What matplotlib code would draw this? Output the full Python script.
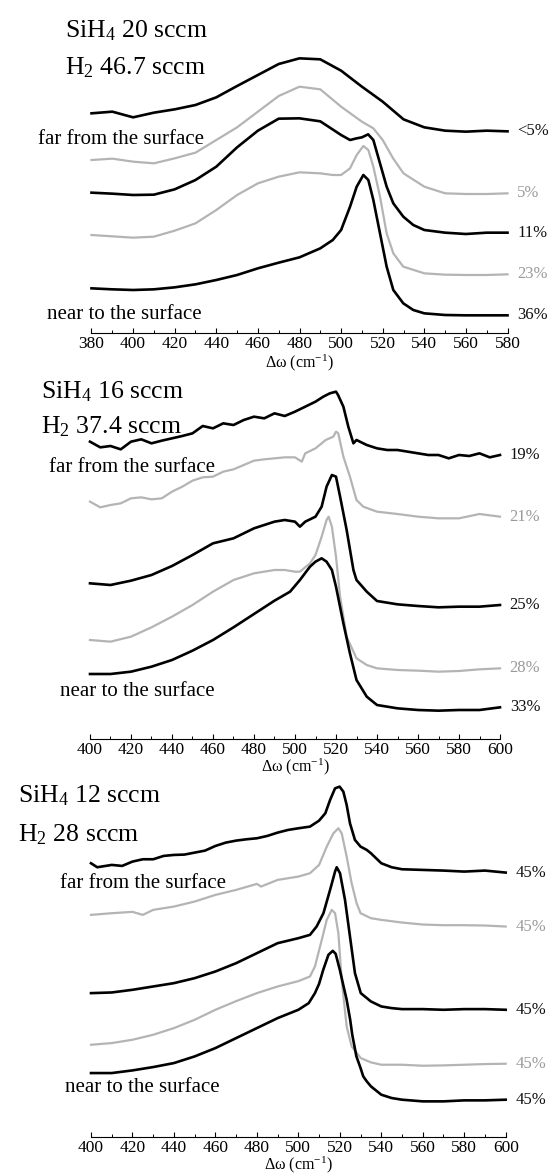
import matplotlib
matplotlib.use("Agg")
import matplotlib.pyplot as plt
from matplotlib.ticker import MultipleLocator

plt.rcParams['font.family'] = ['Liberation Serif', 'DejaVu Serif']
plt.rcParams['mathtext.fontset'] = 'custom'
plt.rcParams['mathtext.rm'] = 'Liberation Serif'
plt.rcParams['mathtext.it'] = 'Liberation Serif:italic'
plt.rcParams['mathtext.bf'] = 'Liberation Serif:bold'

BLACK = '#000000'
GRAY = '#b4b4b4'

# ---------------- Panel 1: SiH4 20 sccm / H2 46.7 sccm ----------------
p1_titles = ["SiH$_4$ 20 sccm", "H$_2$ 46.7 sccm"]
p1_labels = ["<5%", "5%", "11%", "23%", "36%"]
p1_x1 = [380, 390, 400, 410, 420, 430, 440, 450, 460, 470, 480, 490, 500, 510, 520, 530, 540, 550, 560, 570, 580]
p1_y1 = [680, 685, 668, 682, 692, 705, 728, 762, 795, 828, 845, 842, 808, 760, 715, 662, 638, 628, 625, 628, 626]
p1_x2 = [380, 390, 400, 410, 420, 430, 440, 450, 460, 470, 480, 490, 500, 510, 515.5, 520, 525, 530, 540, 550,
         560, 570, 580]
p1_y2 = [540, 544, 535, 530, 545, 562, 600, 638, 685, 732, 760, 752, 700, 655, 635, 600, 545, 500, 460, 440,
         438, 438, 440]
p1_x3 = [380, 390, 400, 410, 420, 430, 440, 450, 460, 470, 480, 490, 500, 504.3, 507.5, 510, 513, 515.5, 518.7,
         521.9, 525.1, 529.9, 534.7, 540, 550, 560, 570, 580]
p1_y3 = [442, 439, 435, 436, 452, 480, 520, 578, 628, 664, 665, 656, 615, 600, 605, 608, 617, 600, 530,
         460, 410, 370, 345, 330, 322, 318, 322, 322]
p1_x4 = [380, 390, 400, 410, 420, 430, 440, 450, 460, 470, 480, 490, 496, 500, 504.3, 507.5, 510.7, 513.1, 515.5,
         518.7, 521.9, 525.1, 529.9, 540, 550, 560, 570, 580]
p1_y4 = [315, 311, 307, 310, 328, 350, 390, 435, 470, 490, 503, 500, 495, 495, 515, 555, 582, 570, 520,
         430, 320, 260, 220, 200, 196, 195, 195, 197]
p1_x5 = [380, 390, 400, 410, 420, 430, 440, 450, 460, 470, 480, 490, 496, 500, 504.3, 507.5, 510.7, 513.1, 515.5,
         518.7, 521.9, 525.1, 529.9, 534.7, 540, 550, 560, 570, 580]
p1_y5 = [155, 152, 150, 152, 158, 167, 180, 195, 215, 232, 248, 275, 300, 330, 400, 460, 495, 480, 420,
         320, 220, 150, 110, 90, 80, 75, 74, 74, 74]
p1_ticks = [380, 400, 420, 440, 460, 480, 500, 520, 540, 560, 580]

# ---------------- Panel 2: SiH4 16 sccm / H2 37.4 sccm ----------------
p2_titles = ["SiH$_4$ 16 sccm", "H$_2$ 37.4 sccm"]
p2_labels = ["19%", "21%", "25%", "28%", "33%"]
p2_x1 = [400, 405, 410, 415, 420, 425, 430, 435, 440, 445, 450, 455, 460, 465, 470, 475, 480, 485, 490, 495,
         500, 505, 510, 513.8, 517, 520, 521, 523.6, 526, 528.5, 530, 535, 540, 545, 550, 555, 560, 565, 570, 575,
         580, 585, 590, 595, 600]
p2_y1 = [890, 873, 877, 867, 890, 897, 885, 893, 900, 907, 915, 937, 930, 945, 940, 955, 965, 960, 975, 967,
         980, 995, 1010, 1025, 1035, 1040, 1030, 995, 935, 885, 895, 880, 870, 865, 865, 860, 855, 850, 850, 840,
         850, 847, 855, 843, 850]
p2_x2 = [400, 405, 410, 415, 420, 425, 430, 435, 440, 445, 450, 455, 460, 465, 470, 475, 480, 485, 490, 495,
         500, 503.3, 505, 510, 515, 518.7, 520, 521.1, 523.6, 526.8, 530, 533.3, 540, 550, 560, 570, 580, 590, 600]
p2_y2 = [710, 693, 700, 705, 720, 723, 717, 720, 740, 755, 773, 783, 785, 800, 807, 820, 833, 837, 840, 843,
         843, 830, 855, 870, 895, 905, 920, 915, 845, 785, 715, 695, 680, 673, 665, 660, 660, 673, 665]
p2_x3 = [400, 410, 420, 430, 440, 450, 460, 470, 480, 490, 495, 500, 502.4, 505, 510, 513, 515.4, 518, 520, 522,
         525.2, 528.5, 530, 535, 540, 550, 560, 570, 580, 590, 600]
p2_y3 = [465, 460, 473, 490, 517, 550, 585, 600, 630, 650, 655, 650, 635, 650, 665, 695, 755, 790, 785, 725,
         625, 505, 475, 440, 412, 402, 397, 393, 395, 395, 400]
p2_x4 = [400, 410, 420, 430, 440, 450, 460, 470, 480, 490, 495, 500, 502.4, 507.3, 510, 513, 515.4, 516.4, 518, 520,
         522, 525.2, 530, 535, 540, 550, 560, 570, 580, 590, 600]
p2_y4 = [295, 290, 305, 333, 365, 400, 440, 475, 495, 505, 505, 500, 500, 525, 550, 605, 655, 665, 635, 545,
         425, 305, 240, 220, 210, 205, 203, 200, 202, 207, 210]
p2_x5 = [400, 410, 420, 430, 440, 450, 460, 470, 480, 490, 497.6, 502.4, 507.3, 510, 513, 515.4, 518, 520, 523.6,
         526.8, 530, 535, 540, 550, 560, 570, 580, 590, 600]
p2_y5 = [193, 193, 200, 215, 235, 263, 295, 333, 373, 413, 440, 475, 515, 530, 540, 530, 505, 455, 345,
         255, 175, 125, 100, 90, 85, 83, 85, 85, 93]
p2_ticks = [400, 420, 440, 460, 480, 500, 520, 540, 560, 580, 600]

# ---------------- Panel 3: SiH4 12 sccm / H2 28 sccm ----------------
p3_titles = ["SiH$_4$ 12 sccm", "H$_2$ 28 sccm"]
p3_labels = ["45%", "45%", "45%", "45%", "45%"]
p3_x1 = [400, 403, 410, 415, 420, 425, 430, 435, 440, 445, 450, 455, 460, 465, 470, 475, 480, 485, 490, 495,
         500, 505.6, 510, 513, 515.3, 517.7, 519.9, 521.7, 523.3, 524.9, 527.3, 530, 533, 535, 540, 545, 550,
         560, 570, 580, 590, 600]
p3_y1 = [850, 838, 845, 842, 855, 862, 862, 872, 875, 876, 882, 888, 902, 912, 918, 922, 925, 932, 942, 950,
         955, 960, 978, 1000, 1040, 1075, 1080, 1065, 1025, 970, 920, 900, 890, 880, 850, 838, 832,
         830, 828, 825, 828, 822]
p3_x2 = [400, 410, 420, 425, 430, 440, 450, 460, 470, 480, 482, 490, 500, 505.6, 510, 513.7, 516.9, 519.3, 520.9,
         523.3, 525.7, 528.1, 530, 535, 540, 550, 560, 570, 580, 590, 600]
p3_y2 = [695, 700, 704, 695, 710, 720, 735, 755, 770, 788, 780, 800, 810, 820, 845, 900, 940, 955, 940,
         870, 790, 730, 700, 685, 680, 672, 666, 664, 664, 663, 660]
p3_x3 = [400, 410, 420, 430, 440, 450, 460, 470, 480, 490, 500, 505.6, 508.8, 512.1, 515.3, 517.7, 518.5, 520.1,
         522.5, 524.9, 527.3, 530.1, 535, 540, 545, 550, 560, 570, 580, 590, 600]
p3_y3 = [460, 462, 470, 480, 490, 505, 525, 550, 580, 610, 625, 635, 660, 700, 770, 825, 838, 820,
         740, 630, 520, 460, 435, 420, 415, 412, 412, 410, 412, 412, 410]
p3_x4 = [400, 410, 420, 430, 440, 450, 460, 470, 480, 490, 500, 505.6, 508, 511.3, 513.7, 516.1, 517.7, 519.3,
         520.9, 523.3, 525.7, 530.1, 535, 540, 550, 560, 570, 580, 590, 600]
p3_y4 = [305, 310, 320, 335, 355, 380, 410, 436, 460, 480, 496, 510, 540, 620, 680, 710, 700, 640,
         500, 360, 300, 265, 252, 245, 245, 242, 243, 245, 247, 248]
p3_x5 = [400, 410, 420, 430, 440, 450, 460, 470, 480, 490, 500, 505, 508, 510, 512, 514.5, 516.6, 518, 520, 522,
         523.3, 525, 526, 528, 530, 531.3, 533, 535, 540, 545, 550, 560, 570, 580, 590, 600]
p3_y5 = [220, 220, 228, 238, 250, 270, 295, 325, 355, 385, 410, 430, 460, 488, 530, 575, 587, 578, 530, 475,
         440, 380, 335, 270, 235, 210, 195, 180, 155, 145, 140, 135, 135, 138, 138, 140]
p3_ticks = [400, 420, 440, 460, 480, 500, 520, 540, 560, 580, 600]

W, H = 552, 1176
fig = plt.figure(figsize=(W / 100, H / 100), dpi=100)


def fx(px):
    return px / W


def fy(py):
    return 1 - py / H


panels = [
    dict(rect=(91.5, 40, 507.5, 333), ylim=(21, 900), xlim=(380, 580), ticks=p1_ticks,
         curves=[(p1_x1, p1_y1), (p1_x2, p1_y2), (p1_x3, p1_y3), (p1_x4, p1_y4), (p1_x5, p1_y5)],
         labels=p1_labels, titles=p1_titles, title_x=65, title_y=(37, 74),
         far=(204, 139), near=(202, 315), labelpad=0),
    dict(rect=(90, 370, 500, 738.5), ylim=(-0.5, 1105), xlim=(400, 600), ticks=p2_ticks,
         curves=[(p2_x1, p2_y1), (p2_x2, p2_y2), (p2_x3, p2_y3), (p2_x4, p2_y4), (p2_x5, p2_y5)],
         labels=p2_labels, titles=p2_titles, title_x=41, title_y=(398, 433),
         far=(215, 467), near=(215, 692), labelpad=-1),
    dict(rect=(91, 780, 505.7, 1137), ylim=(28, 1100), xlim=(400, 600), ticks=p3_ticks,
         curves=[(p3_x1, p3_y1), (p3_x2, p3_y2), (p3_x3, p3_y3), (p3_x4, p3_y4), (p3_x5, p3_y5)],
         labels=p3_labels, titles=p3_titles, title_x=18, title_y=(802, 841),
         far=(226, 883), near=(220, 1088), labelpad=-1.5),
]

colors = [BLACK, GRAY, BLACK, GRAY, BLACK]
widths = [1.9, 1.6, 1.9, 1.6, 1.9]
text_colors = ['#111111', '#9a9a9a', '#111111', '#9a9a9a', '#111111']

for p in panels:
    l, t, r, b = p['rect']
    ax = fig.add_axes([fx(l), fy(b), fx(r) - fx(l), (b - t) / H])
    ax.set_xlim(*p['xlim'])
    ax.set_ylim(*p['ylim'])
    for (xs, ys), c, lw, lab, tc in zip(p['curves'], colors, widths, p['labels'], text_colors):
        ax.plot(xs, ys, color=c, lw=lw, solid_joinstyle='round', clip_on=False)
        ax.annotate(lab, xy=(xs[-1], ys[-1]), xytext=(7, 0), textcoords='offset points',
                    ha='left', va='center', fontsize=12, color=tc, annotation_clip=False)
    for s in ['top', 'left', 'right']:
        ax.spines[s].set_visible(False)
    ax.spines['bottom'].set_linewidth(0.8)
    ax.set_yticks([])
    ax.set_xticks(p['ticks'])
    ax.xaxis.set_minor_locator(MultipleLocator(10))
    ax.tick_params(axis='x', which='major', direction='in', length=3.5, width=0.8,
                   labelsize=12.5, pad=2.5)
    ax.tick_params(axis='x', which='minor', direction='in', length=2, width=0.7)
    ax.set_xlabel("\u0394\u03c9 (cm$^{-1}$)", fontsize=11.5, labelpad=p['labelpad'])
    ax.patch.set_alpha(0)

    # titles
    for txt, ty in zip(p['titles'], p['title_y']):
        fig.text(fx(p['title_x']), fy(ty), txt, fontsize=18.5, ha='left', va='baseline')
    fig.text(fx(p['far'][0]), fy(p['far'][1]), "far from the surface", fontsize=15,
             ha='right', va='center')
    fig.text(fx(p['near'][0]), fy(p['near'][1]), "near to the surface", fontsize=15,
             ha='right', va='center')

fig.savefig("out.png", dpi=100)
